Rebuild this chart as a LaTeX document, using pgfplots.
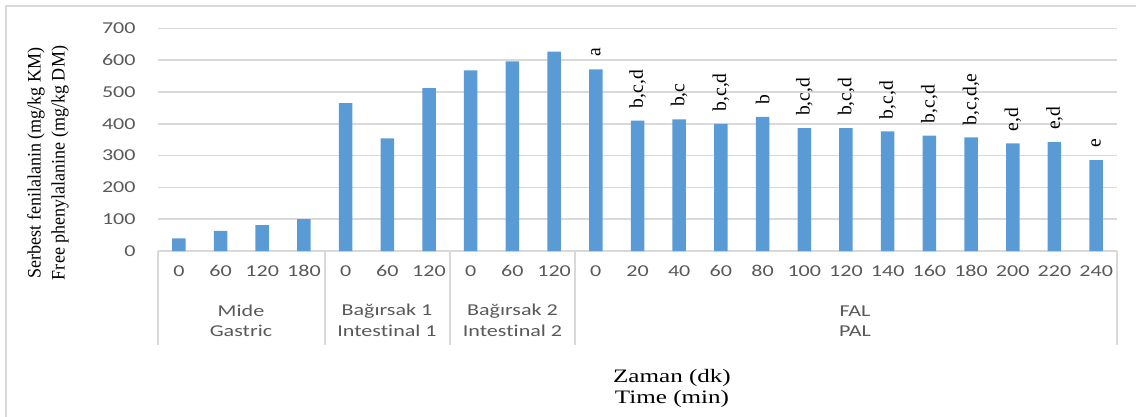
\documentclass[border=0pt]{standalone}
\usepackage{fontspec}
\usepackage{pgfplots}
\usepackage{pgfplotstable}
\pgfplotsset{compat=1.18}
\setmainfont{Liberation Serif}
\newfontfamily\tickfont[FakeStretch=1.33,Ligatures=NoCommon]{Carlito}
\newfontfamily\titlefont[FakeStretch=1.32]{Liberation Serif}
\newfontfamily\rotfont[FakeStretch=0.95]{Liberation Serif}
\newfontfamily\labfont{Liberation Serif}
\definecolor{barblue}{HTML}{5B9BD5}
\definecolor{gridgray}{HTML}{D9D9D9}
\definecolor{txtgray}{HTML}{595959}
\pgfplotstableread{
x y lab
0 40 {}
1 63 {}
2 81 {}
3 100 {}
4 465 {}
5 354 {}
6 512 {}
7 568 {}
8 596 {}
9 627 {}
10 571 a
11 410 {b,c,d}
12 414 {b,c}
13 400 {b,c,d}
14 422 b
15 386 {b,c,d}
16 386 {b,c,d}
17 376 {b,c,d}
18 363 {b,c,d}
19 357 {b,c,d,e}
20 338 {e,d}
21 342 {e,d}
22 286 e
}\datatable
\begin{document}
\begin{tikzpicture}
\begin{scope}[x=0.5pt,y=-0.5pt]
\useasboundingbox (0,0) rectangle (1136,417);
\draw[gridgray,line width=1pt] (6,417) -- (6,6) -- (1136,6);
\end{scope}
\begin{axis}[
  at={(79pt,-125.5pt)}, anchor=south west,
  scale only axis, width=479.5pt, height=111.33pt,
  xmin=-0.5, xmax=22.5, ymin=0, ymax=700,
  ytick={0,100,...,700},
  xtick=data,
  xticklabels={0,60,120,180,0,60,120,0,60,120,0,20,40,60,80,100,120,140,160,180,200,220,240},
  axis x line*=bottom, axis y line*=left,
  x axis line style={gridgray,line width=0.8pt},
  y axis line style={draw=none},
  ymajorgrids, grid style={gridgray,line width=0.8pt},
  major tick length=0pt,
  /pgf/number format/assume math mode=true,
  ticklabel style={font=\tickfont\fontsize{8.3}{10}\selectfont, text=txtgray},
  xticklabel style={anchor=north, inner sep=0pt, yshift=-7pt},
  yticklabel style={anchor=east, inner sep=0pt, xshift=-11pt},
  clip=false,
  ybar, bar width=6.75pt,
  point meta=explicit symbolic,
  nodes near coords,
  nodes near coords style={rotate=90, anchor=west, inner sep=0pt, xshift=6pt,
     font=\labfont\fontsize{9.8}{11}\selectfont, text=black},
]
\addplot[fill=barblue, draw=none] table[x=x,y=y,meta=lab]{\datatable};
\foreach \s in {-0.5,3.5,6.5,9.5,22.5}{
  \edef\tmp{\noexpand\draw[gridgray,line width=0.8pt] (axis cs:\s,0) -- ([yshift=-47pt]axis cs:\s,0);}
  \tmp
}
\end{axis}
\begin{scope}[x=0.5pt,y=-0.5pt]
\begin{scope}[every node/.style={font=\tickfont\fontsize{8.3}{10}\selectfont, text=txtgray, inner sep=0pt}]
\node at (241,311) {Mide};
\node at (241,331) {Gastric};
\node at (387,311) {Bağırsak 1};
\node at (387,331) {Intestinal 1};
\node at (512.5,311) {Bağırsak 2};
\node at (512.5,331) {Intestinal 2};
\node at (855,311) {FAL};
\node at (855,331) {PAL};
\end{scope}
\node[font=\titlefont\fontsize{9.5}{11}\selectfont, inner sep=0pt] at (672,378) {Zaman (dk)};
\node[font=\titlefont\fontsize{9.5}{11}\selectfont, inner sep=0pt] at (672,399) {Time (min)};
\node[font=\rotfont\fontsize{9.5}{10}\selectfont, rotate=90, inner sep=0pt] at (36,163) {Serbest fenilalanin (mg/kg KM)};
\node[font=\rotfont\fontsize{9.5}{10}\selectfont, rotate=90, inner sep=0pt] at (60,163) {Free phenylalanine (mg/kg DM)};
\end{scope}
\end{tikzpicture}
\end{document}
